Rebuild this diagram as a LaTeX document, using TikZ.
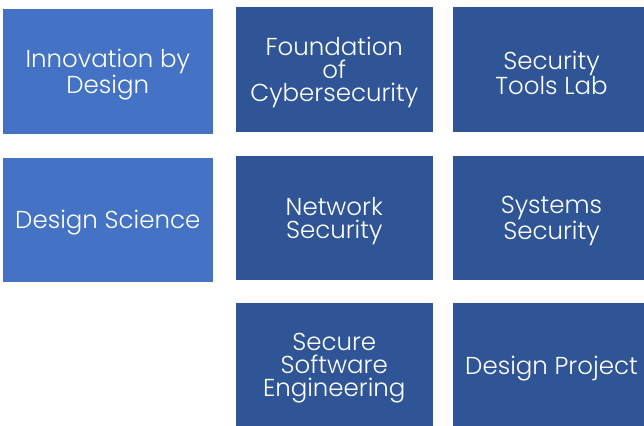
\documentclass[tikz,border=0pt]{standalone}
\usepackage{fontspec}
\setmainfont{Poppins}[UprightFont={* Light}]
\usepackage{tikz}
\definecolor{lightblue}{HTML}{4472C4}
\definecolor{darkblue}{HTML}{2F5597}

\begin{document}
\begin{tikzpicture}[x=1pt, y=-1pt,
    boxtext/.style={inner sep=0pt, text=white, align=center, yshift=-3pt,
      font=\fontsize{24.5}{23}\selectfont},
    lightbox/.style={rectangle, fill=lightblue, minimum width=209.5pt, minimum height=124.5pt},
    darkbox/.style={rectangle, fill=darkblue, minimum width=196.5pt, minimum height=124.5pt}]
    % fix the page to the size of the reference
    \useasboundingbox (0,0) rectangle (644,425);
    \clip (0,0) rectangle (644,425);

    % left column
    \node [lightbox, label={[boxtext]center:{Innovation by\\Design}}] (innov) at (107.75,71.5) {};
    \node [lightbox, label={[boxtext]center:{Design Science}}] (dsci) at (107.75,220) {};

    % middle column
    \node [darkbox, label={[boxtext]center:{Foundation\\of\\Cybersecurity}}] (found) at (334.25,69.75) {};
    \node [darkbox, label={[boxtext]center:{Network\\Security}}] (netsec) at (334.25,217.75) {};
    \node [darkbox, label={[boxtext]center:{Secure\\Software\\Engineering}}] (softeng) at (334.25,365.5) {};

    % right column, cut by the right edge
    \node [darkbox, label={[boxtext]center:{Security\\Tools Lab}}] (tools) at (551.5,69.75) {};
    \node [darkbox, label={[boxtext]center:{Systems\\Security}}] (syssec) at (551.5,217.75) {};
    \node [darkbox, label={[boxtext]center:{Design Project}}] (dproj) at (551.5,365.5) {};
  \end{tikzpicture}
\end{document}
